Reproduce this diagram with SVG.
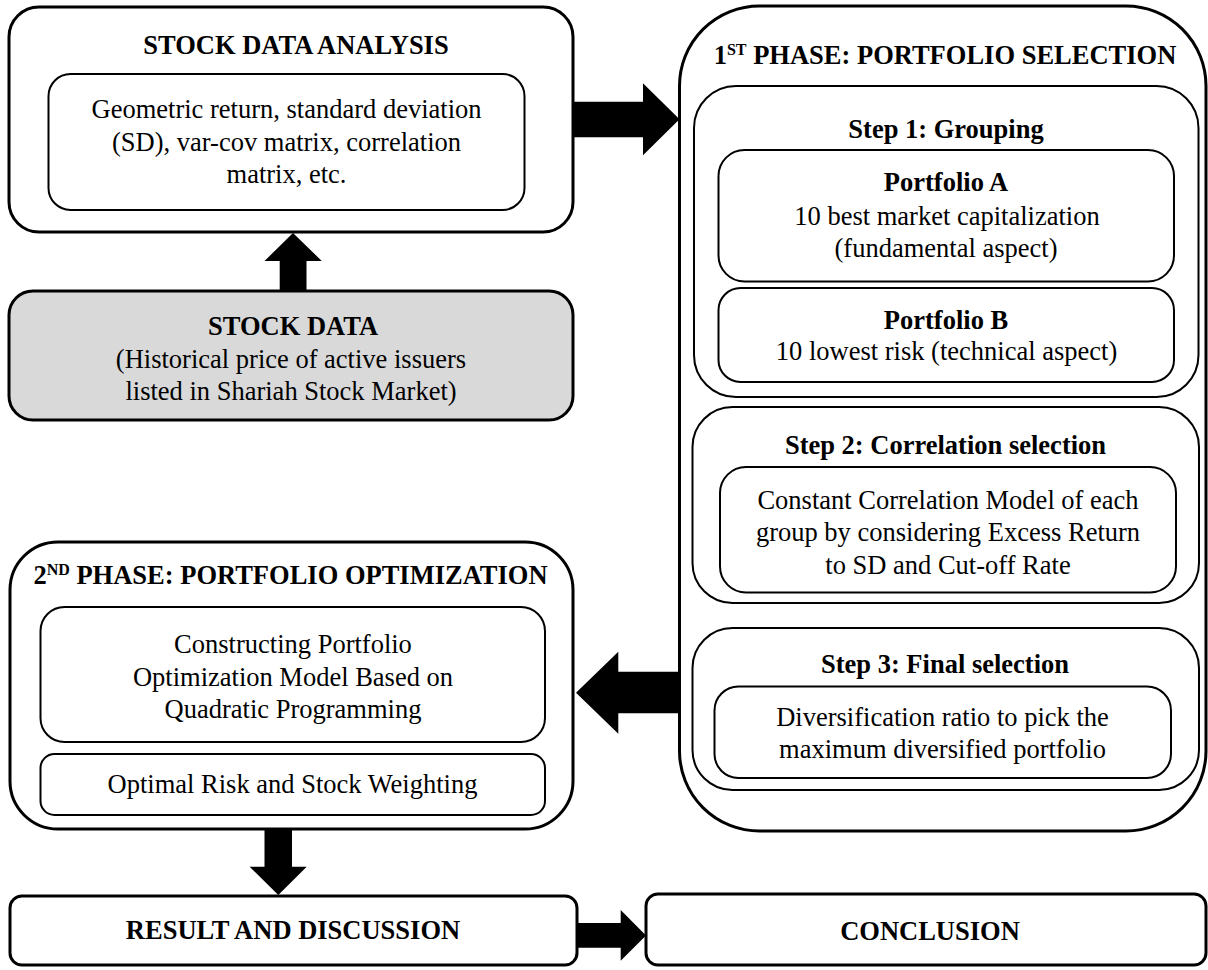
<svg xmlns="http://www.w3.org/2000/svg" width="1208" height="970" viewBox="0 0 1208 970">
<style>
.o{fill:#fff;stroke:#000;stroke-width:3}
.i{fill:#fff;stroke:#000;stroke-width:2}
.g{fill:#d9d9d9;stroke:#000;stroke-width:3}
text{font-family:"Liberation Serif","Times New Roman",serif;font-size:26.5px;text-anchor:middle;fill:#000}
.b{font-weight:bold}
.sup{font-size:16px}
.arrow{fill:#000;stroke:none}
</style>
<rect width="1208" height="970" fill="#fff"/>
<g id="stock-data-analysis">
<rect class="o" x="9" y="7" width="564" height="225" rx="30"/>
<text class="b" x="296" y="53.5">STOCK DATA ANALYSIS</text>
<rect class="i" x="48.5" y="74" width="476" height="136" rx="22"/>
<text x="286.5" y="118">Geometric return, standard deviation</text>
<text x="286.5" y="151">(SD), var-cov matrix, correlation</text>
<text x="286.5" y="183">matrix, etc.</text>
</g>
<g id="stock-data">
<rect class="g" x="9" y="291" width="564" height="129" rx="24"/>
<text class="b" x="293" y="335">STOCK DATA</text>
<text x="291" y="367.5">(Historical price of active issuers</text>
<text x="291" y="399.5">listed in Shariah Stock Market)</text>
</g>
<g id="phase2">
<rect class="o" x="10" y="542" width="563" height="287" rx="48"/>
<text class="b" x="290.5" y="584">2<tspan class="sup" dy="-9">ND</tspan><tspan dy="9"> PHASE: PORTFOLIO OPTIMIZATION</tspan></text>
<rect class="i" x="40.5" y="607" width="504.5" height="135" rx="24"/>
<text x="293" y="653">Constructing Portfolio</text>
<text x="293" y="685.5">Optimization Model Based on</text>
<text x="293" y="718">Quadratic Programming</text>
<rect class="i" x="40.5" y="754" width="504.5" height="61" rx="14"/>
<text x="292.5" y="793">Optimal Risk and Stock Weighting</text>
</g>
<g id="result">
<rect class="o" x="10" y="896" width="567" height="69" rx="12"/>
<text class="b" x="293" y="939">RESULT AND DISCUSSION</text>
</g>
<g id="conclusion">
<rect class="o" x="646" y="894" width="560" height="71" rx="12"/>
<text class="b" x="930" y="940">CONCLUSION</text>
</g>
<g id="phase1">
<rect class="o" x="679.5" y="6" width="526.5" height="825" rx="80"/>
<text class="b" x="945" y="63.5">1<tspan class="sup" dy="-9">ST</tspan><tspan dy="9"> PHASE: PORTFOLIO SELECTION</tspan></text>
</g>
<g id="step1">
<rect class="i" x="694" y="86" width="504.5" height="311" rx="42"/>
<text class="b" x="946" y="137.5">Step 1: Grouping</text>
</g>
<g id="portfolio-a">
<rect class="i" x="718.5" y="150" width="455.5" height="131.5" rx="26"/>
<text class="b" x="946" y="191">Portfolio A</text>
<text x="947" y="224.5">10 best market capitalization</text>
<text x="946" y="256.5">(fundamental aspect)</text>
</g>
<g id="portfolio-b">
<rect class="i" x="718.5" y="288" width="455.5" height="94" rx="22"/>
<text class="b" x="946" y="328.5">Portfolio B</text>
<text x="946.5" y="360">10 lowest risk (technical aspect)</text>
</g>
<g id="step2">
<rect class="i" x="692.5" y="407" width="506.5" height="196" rx="40"/>
<text class="b" x="945.5" y="454">Step 2: Correlation selection</text>
<rect class="i" x="720" y="467" width="456" height="125.5" rx="26"/>
<text x="948" y="508.5">Constant Correlation Model of each</text>
<text x="948" y="541">group by considering Excess Return</text>
<text x="948" y="573.5">to SD and Cut-off Rate</text>
</g>
<g id="step3">
<rect class="i" x="692.5" y="628" width="506.5" height="162" rx="40"/>
<text class="b" x="945" y="672.5">Step 3: Final selection</text>
<rect class="i" x="714.5" y="686.5" width="456.5" height="91.5" rx="24"/>
<text x="942.5" y="725.5">Diversification ratio to pick the</text>
<text x="942.5" y="758">maximum diversified portfolio</text>
</g>
<g id="connectors" class="arrow">
<polygon points="279.7,291 279.7,261 264.5,261 293,233 321.8,261 306.5,261 306.5,291"/>
<polygon points="573,101.7 643,101.7 643,83.3 679.5,119.3 643,155.3 643,137.3 573,137.3"/>
<polygon points="679.5,671.7 618.3,671.7 618.3,651.7 576,692.7 618.3,733.7 618.3,713.3 679.5,713.3"/>
<polygon points="264.5,829 292,829 292,866.7 306.7,866.7 278.3,895 249.6,866.7 264.5,866.7"/>
<polygon points="577,923 620.7,923 620.7,910 646,935.4 620.7,960.8 620.7,947.8 577,947.8"/>
</g>
</svg>
